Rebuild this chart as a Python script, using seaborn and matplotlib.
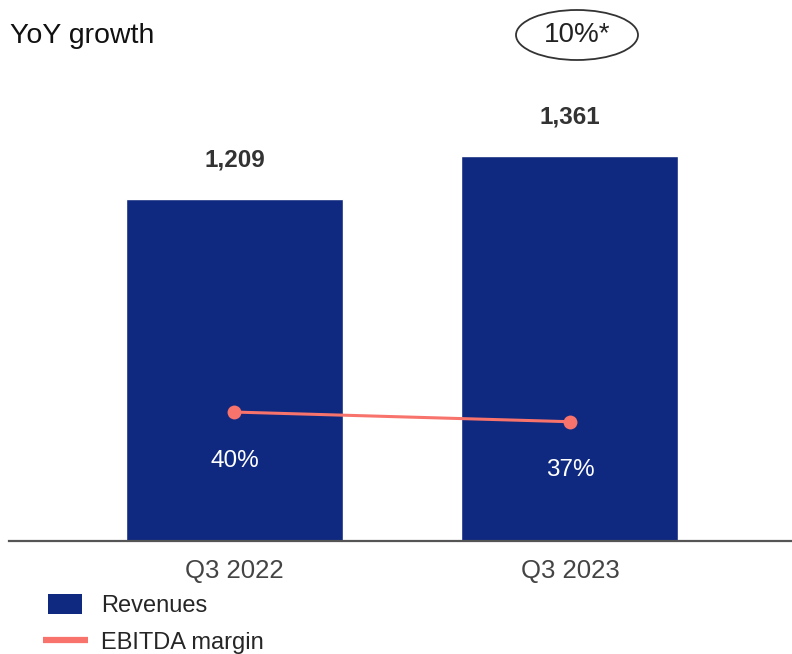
import matplotlib
matplotlib.use("Agg")
import matplotlib.pyplot as plt
import seaborn as sns
import pandas as pd
from matplotlib.patches import Ellipse, Rectangle
from matplotlib.lines import Line2D
from matplotlib.legend_handler import HandlerPatch

# Data
quarters = ["Q3 2022", "Q3 2023"]
revenues = [1209, 1361]
ebitda_margin = [40, 37]
yoy_growth_label = "10%*"

BAR_COLOR = "#0f2980"
LINE_COLOR = "#f8736b"

sns.set_theme(style="white")
plt.rcParams["font.family"] = ["Liberation Sans", "DejaVu Sans"]

df = pd.DataFrame({"quarter": quarters, "revenue": revenues, "margin": ebitda_margin})

fig = plt.figure(figsize=(7.92, 6.54), dpi=100)
W, H = 792, 654
ax = fig.add_axes([9 / W, (H - 541) / H, 783 / W, (541 - 80) / H])

sns.barplot(data=df, x="quarter", y="revenue", color=BAR_COLOR, width=0.647,
            saturation=1, ax=ax, zorder=2)
ax.set_xlim(-0.672, 1.662)
ax.set_ylim(0, 1630)

for i, v in enumerate(revenues):
    ax.annotate(f"{v:,}", (i, v), xytext=(0, 20), textcoords="offset points",
                ha="center", va="bottom", fontsize=17.5, fontweight="bold",
                color="#333333")

ax2 = ax.twinx()
sns.lineplot(data=df, x="quarter", y="margin", color=LINE_COLOR, linewidth=2.2,
             marker="o", markersize=10, markeredgewidth=0, ax=ax2, zorder=3)
ax2.set_ylim(0, 143)
ax2.set_xlim(-0.672, 1.662)

for i, m in enumerate(ebitda_margin):
    ax2.annotate(f"{m}%", (i, m), xytext=(0, -35), textcoords="offset points",
                 ha="center", va="center", fontsize=17.5, color="white")

for a in (ax, ax2):
    for s in ("top", "right", "left"):
        a.spines[s].set_visible(False)
    a.set_yticks([])
    a.set_ylabel("")
    a.set_xlabel("")
    a.grid(False)
ax2.spines["bottom"].set_visible(False)
ax.spines["bottom"].set_color("#555555")
ax.spines["bottom"].set_linewidth(1.6)
ax.tick_params(axis="x", length=0, pad=13, labelsize=18.5, labelcolor="#444444")

# Header
fig.text(10 / W, 1 - 36 / H, "YoY growth", ha="left", va="center",
         fontsize=20.5, color="#111111")
fig.patches.append(Ellipse((577 / W, 1 - 35 / H), 122 / W, 50 / H,
                           transform=fig.transFigure, fill=False,
                           edgecolor="#333333", linewidth=1.3))
fig.text(577 / W, 1 - 35 / H, yoy_growth_label, ha="center", va="center",
         fontsize=20, color="#222222")


class NarrowPatchHandler(HandlerPatch):
    def create_artists(self, legend, orig_handle, xdescent, ydescent, width,
                       height, fontsize, trans):
        w = width * 0.76
        h = height * 1.15
        r = Rectangle((-xdescent + (width - w) / 2, -ydescent - (h - height) / 2),
                      w, h, facecolor=orig_handle.get_facecolor(),
                      edgecolor="none", transform=trans)
        return [r]


handles = [Rectangle((0, 0), 1, 1, facecolor=BAR_COLOR),
           Line2D([0], [0], color=LINE_COLOR, linewidth=4.5,
                  solid_capstyle="butt")]
fig.legend(handles, ["Revenues", "EBITDA margin"], loc="upper left",
           bbox_to_anchor=(43 / W, 1 - 595 / H), frameon=False, fontsize=17,
           handlelength=1.9, handleheight=0.8, handletextpad=0.55,
           labelspacing=0.62, borderaxespad=0, borderpad=0,
           handler_map={Rectangle: NarrowPatchHandler()})

fig.savefig("out.png", dpi=100)
